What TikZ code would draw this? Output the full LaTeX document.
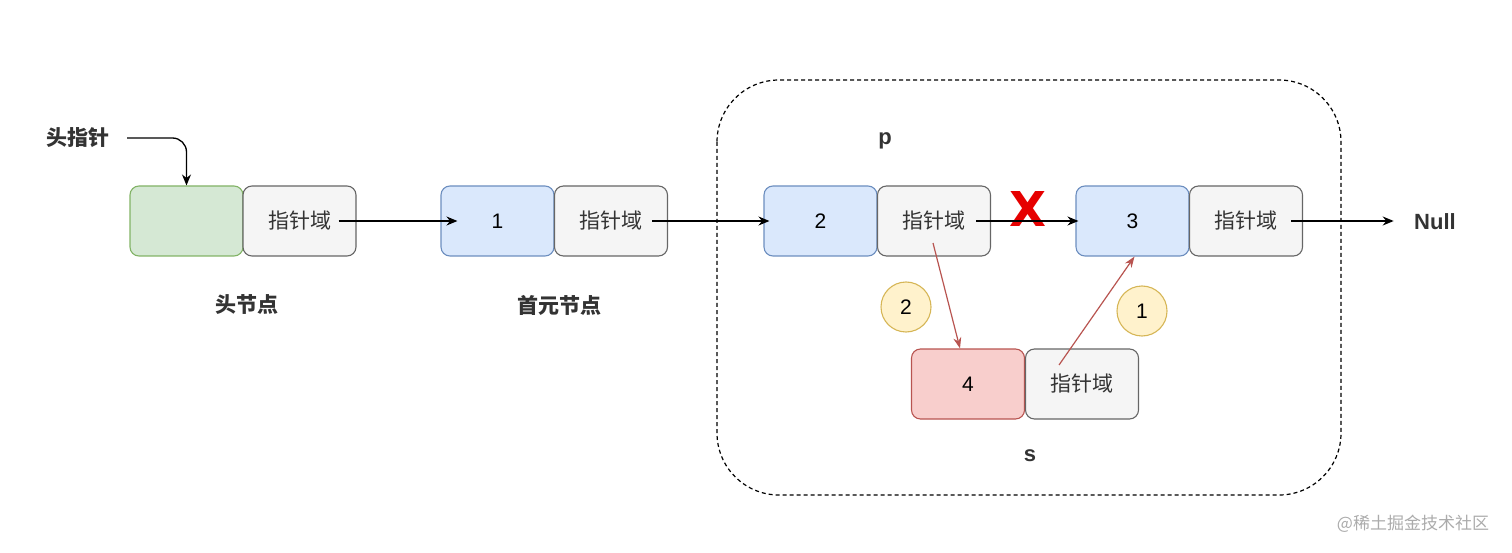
\documentclass[tikz,border=0pt]{standalone}
\usepackage{fontspec}
\setmainfont{Noto Sans CJK SC}
\newfontfamily\latf{Liberation Sans}
\newfontfamily\heavyf{DejaVu Sans}
\usetikzlibrary{arrows.meta}
\definecolor{gfill}{HTML}{D5E8D4}\definecolor{gline}{HTML}{82B366}
\definecolor{bfill}{HTML}{DAE8FC}\definecolor{bline}{HTML}{6C8EBF}
\definecolor{rfill}{HTML}{F8CECC}\definecolor{rline}{HTML}{B85450}
\definecolor{kfill}{HTML}{F5F5F5}\definecolor{kline}{HTML}{666666}
\definecolor{yfill}{HTML}{FFF2CC}\definecolor{yline}{HTML}{D6B656}
\definecolor{txt}{HTML}{333333}
\definecolor{xred}{HTML}{E60000}
\begin{document}
\begin{tikzpicture}[x=1pt,y=-1pt,
  cell/.style={draw, rounded corners=9pt, minimum width=113pt, minimum height=70pt,
    line width=1.1pt, inner sep=0pt, text=black, font=\latf\fontsize{21}{25}\selectfont},
  ptrcell/.style={cell, fill=kfill, draw=kline, text=txt, font=\fontsize{21}{25}\selectfont},
  green/.style={cell, fill=gfill, draw=gline},
  blue/.style={cell, fill=bfill, draw=bline},
  red/.style={cell, fill=rfill, draw=rline},
  badge/.style={circle, draw=yline, fill=yfill, line width=1.1pt, minimum size=50pt, inner sep=0pt,
    font=\latf\fontsize{21}{25}\selectfont},
  lbl/.style={text=txt, font=\bfseries\fontsize{21}{25}\selectfont},
  latlbl/.style={text=txt, font=\latf\bfseries\fontsize{22}{26}\selectfont},
  link/.style={line width=1.3pt, -{Stealth[length=11pt,width=9pt]}},
  redlink/.style={line width=1.2pt, draw=rline, -{Stealth[length=11pt,width=8pt]}, color=rline}
]
\useasboundingbox (0,0) rectangle (1512,553);
% dashed group
\draw[dashed, line width=1.2pt, dash pattern=on 4pt off 3pt, rounded corners=62pt] (717,80) rectangle (1341,495);
% nodes
\node[green] (hd) at (186.5,221) {};
\node[ptrcell] (hp) at (299.5,221) {指针域};
\node[blue] (d1) at (497.5,221) {1};
\node[ptrcell] (p1) at (611,221) {指针域};
\node[blue] (d2) at (820.5,221) {2};
\node[ptrcell] (p2) at (934,221) {指针域};
\node[blue] (d3) at (1132.5,221) {3};
\node[ptrcell] (p3) at (1246,221) {指针域};
\node[red] (d4) at (968,384) {4};
\node[ptrcell] (p4) at (1082,384) {指针域};
\node[badge] (b2) at (906,307) {2};
\node[badge] (b1) at (1142,311) {1};
% labels
\node[lbl] (hl) at (78,138) {头指针};
\node[lbl] (hnl) at (247,305) {头节点};
\node[lbl] (fnl) at (559,305) {首元节点};
\node[latlbl] (pl) at (885,141) {p};
\node[latlbl] (sl) at (1030,456) {s};
\node[latlbl] (nl) at (1435,222) {Null};
\node[text=xred, font=\heavyf\bfseries\fontsize{48}{48}\selectfont, inner sep=0pt] (xm) at (1028,209) {X};
\node[text=black!33, font=\fontsize{17}{20}\selectfont] (wm) at (1413,524) {@稀土掘金技术社区};
% connectors
\draw[link, rounded corners=14pt] ([xshift=14pt]hl.east) -| (hd.north);
\draw[link] ([xshift=39pt]hp.center) -- ([xshift=17pt]d1.west);
\draw[link] ([xshift=41pt]p1.center) -- ([xshift=6pt]d2.west);
\draw[link] ([xshift=42pt]p2.center) -- ([xshift=3pt]d3.west);
\draw[link] ([xshift=45pt]p3.center) -- ([xshift=-17pt]nl.west |- p3.center);
\draw[redlink] ([xshift=-1pt,yshift=-22pt]p2.center) -- ([xshift=-8pt]d4.north);
\draw[redlink] ([xshift=-23pt,yshift=19pt]p4.center) -- ([xshift=2pt]d3.south);
\end{tikzpicture}
\end{document}
